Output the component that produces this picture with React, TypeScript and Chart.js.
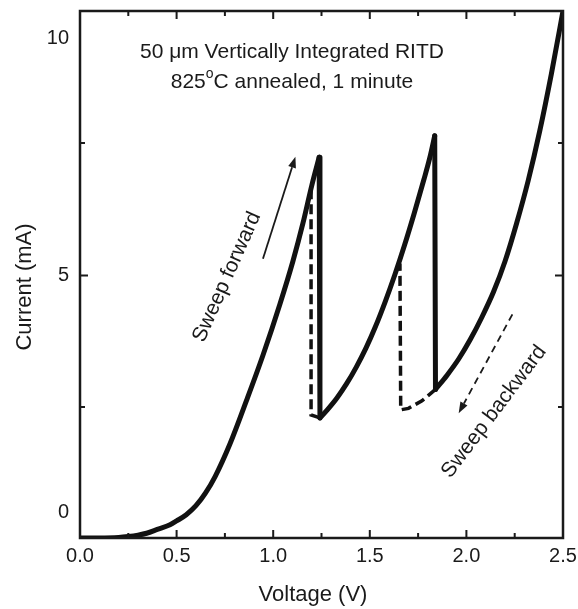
import React, { useEffect, useRef } from "react";
import { Chart, registerables } from "chart.js";

Chart.register(...registerables);

// ---- data (Voltage V, Current mA) ----
const branch1V = [0, 0.1, 0.2, 0.25, 0.3, 0.345, 0.4, 0.466, 0.5, 0.55, 0.6, 0.65, 0.7, 0.776, 0.863, 0.947, 1.035, 1.102, 1.154, 1.2, 1.238];
const branch1I = [-0.53, -0.53, -0.52, -0.5, -0.47, -0.43, -0.35, -0.25, -0.17, -0.04, 0.15, 0.42, 0.77, 1.45, 2.38, 3.32, 4.4, 5.3, 6.1, 6.9, 7.49];
const drop1V = [1.238, 1.242];
const drop1I = [7.49, 2.0];
const branch2V = [1.242, 1.28, 1.33, 1.38, 1.43, 1.48, 1.53, 1.58, 1.63, 1.68, 1.73, 1.78, 1.81, 1.836];
const branch2I = [2.0, 2.17, 2.42, 2.72, 3.07, 3.47, 3.93, 4.45, 5.02, 5.64, 6.31, 7.02, 7.47, 7.94];
const drop2V = [1.836, 1.84];
const drop2I = [7.94, 2.6];
const branch3V = [1.84, 1.9, 1.96, 2.02, 2.08, 2.14, 2.2, 2.26, 2.32, 2.38, 2.44, 2.5];
const branch3I = [2.6, 2.9, 3.24, 3.65, 4.12, 4.65, 5.3, 6.1, 7.0, 8.05, 9.25, 10.57];
const back1V = [1.242, 1.196, 1.196];
const back1I = [2.0, 2.06, 6.8];
const back2V = [1.84, 1.77, 1.7, 1.66, 1.656];
const back2I = [2.6, 2.36, 2.2, 2.17, 5.25];

// ---- axes ----
const xMin = 0;
const xMax = 2.5;
const yMin = -0.53;
const yMax = 10.57;
const xTickLabels = [0, 0.5, 1.0, 1.5, 2.0, 2.5];
const xTickMarks = [0.25, 0.5, 0.75, 1.0, 1.25, 1.5, 1.75, 2.0, 2.25];
const yTickLabels = [0, 5, 10];
const yTickMarks = [2.23, 5, 7.79];
const xTitle = "Voltage (V)";
const yTitle = "Current (mA)";

// ---- annotations ----
const noteLine1 = "50 \u03bcm Vertically Integrated RITD";
const noteLine2a = "825";
const noteLine2b = "o";
const noteLine2c = "C annealed, 1 minute";
const notePos = [1.097, 9.7, 9.07]; // x, y line1, y line2
const fwdText = "Sweep forward";
const fwdTextPos = [0.761, 4.97];
const bwdText = "Sweep backward";
const bwdTextPos = [2.143, 2.13];
const fwdArrowV = [0.947, 1.115];
const fwdArrowI = [5.35, 7.5];
const bwdArrowV = [2.238, 1.96];
const bwdArrowI = [4.18, 2.1];

const FONT = "'Liberation Sans', Arial, Helvetica, sans-serif";
const INK = "#1a1a1a";

const pts = (vs: number[], is: number[]) => vs.map((v, i) => ({ x: v, y: is[i] }));

const decorPlugin = {
  id: "decor",
  afterDraw(chart: any) {
    const { ctx, chartArea: a, scales } = chart;
    const xs = scales.x;
    const ys = scales.y;
    ctx.save();
    // frame
    ctx.strokeStyle = INK;
    ctx.lineWidth = 2.5;
    ctx.strokeRect(a.left, a.top, a.right - a.left, a.bottom - a.top);
    // x tick marks (inward, top and bottom)
    ctx.lineWidth = 2;
    xTickMarks.forEach((v) => {
      const px = xs.getPixelForValue(v);
      const major = Math.abs((v * 2) - Math.round(v * 2)) < 1e-6;
      const len = major ? 8 : 5;
      ctx.beginPath();
      ctx.moveTo(px, a.bottom);
      ctx.lineTo(px, a.bottom - len);
      ctx.moveTo(px, a.top);
      ctx.lineTo(px, a.top + len);
      ctx.stroke();
    });
    yTickMarks.forEach((v) => {
      const py = ys.getPixelForValue(v);
      const len = v === 5 ? 8 : 5;
      ctx.beginPath();
      ctx.moveTo(a.left, py);
      ctx.lineTo(a.left + len, py);
      ctx.moveTo(a.right, py);
      ctx.lineTo(a.right - len, py);
      ctx.stroke();
    });

    // axis titles
    ctx.fillStyle = INK;
    ctx.font = `22px ${FONT}`;
    ctx.textAlign = "center";
    ctx.textBaseline = "middle";
    ctx.fillText(xTitle, 313, 595);
    ctx.save();
    ctx.translate(25, 287);
    ctx.rotate(-Math.PI / 2);
    ctx.fillText(yTitle, 0, 0);
    ctx.restore();

    // note text
    ctx.font = `21px ${FONT}`;
    const nx = xs.getPixelForValue(notePos[0]);
    ctx.fillText(noteLine1, nx, ys.getPixelForValue(notePos[1]));
    const y2 = ys.getPixelForValue(notePos[2]);
    const wa = ctx.measureText(noteLine2a).width;
    const wc = ctx.measureText(noteLine2c).width;
    ctx.font = `14px ${FONT}`;
    const wb = ctx.measureText(noteLine2b).width;
    const total = wa + wb + wc;
    let cx = nx - total / 2;
    ctx.textAlign = "left";
    ctx.font = `21px ${FONT}`;
    ctx.fillText(noteLine2a, cx, y2);
    cx += wa;
    ctx.font = `14px ${FONT}`;
    ctx.fillText(noteLine2b, cx, y2 - 8);
    cx += wb;
    ctx.font = `21px ${FONT}`;
    ctx.fillText(noteLine2c, cx, y2);

    // rotated sweep labels
    ctx.textAlign = "center";
    const rot = (t: string, p: number[], deg: number) => {
      ctx.save();
      ctx.translate(xs.getPixelForValue(p[0]), ys.getPixelForValue(p[1]));
      ctx.rotate((deg * Math.PI) / 180);
      ctx.fillText(t, 0, 0);
      ctx.restore();
    };
    rot(fwdText, fwdTextPos, -66);
    rot(bwdText, bwdTextPos, -53);

    // arrows
    const arrow = (vs: number[], is: number[], dash: number[]) => {
      const x0 = xs.getPixelForValue(vs[0]);
      const y0 = ys.getPixelForValue(is[0]);
      const x1 = xs.getPixelForValue(vs[1]);
      const y1 = ys.getPixelForValue(is[1]);
      const ang = Math.atan2(y1 - y0, x1 - x0);
      const hl = 11;
      const hw = 4;
      const bx = x1 - hl * Math.cos(ang);
      const by = y1 - hl * Math.sin(ang);
      ctx.strokeStyle = INK;
      ctx.lineWidth = 1.8;
      ctx.setLineDash(dash);
      ctx.beginPath();
      ctx.moveTo(x0, y0);
      ctx.lineTo(bx, by);
      ctx.stroke();
      ctx.setLineDash([]);
      ctx.beginPath();
      ctx.moveTo(x1, y1);
      ctx.lineTo(bx + hw * Math.sin(ang), by - hw * Math.cos(ang));
      ctx.lineTo(bx - hw * Math.sin(ang), by + hw * Math.cos(ang));
      ctx.closePath();
      ctx.fill();
    };
    arrow(fwdArrowV, fwdArrowI, []);
    arrow(bwdArrowV, bwdArrowI, [7, 5]);
    ctx.restore();
  },
};

export default function App() {
  const ref = useRef<HTMLCanvasElement | null>(null);
  useEffect(() => {
    if (!ref.current) return;
    const solid = (data: any[], mono = true) => ({
      data,
      borderColor: "#111",
      borderWidth: 5,
      pointRadius: 0,
      fill: false,
      showLine: true,
      borderCapStyle: "round",
      borderJoinStyle: "round",
      cubicInterpolationMode: mono ? "monotone" : "default",
      tension: 0,
    });
    const dashed = (data: any[]) => ({
      data,
      borderColor: "#111",
      borderWidth: 3.5,
      borderDash: [10, 5],
      pointRadius: 0,
      fill: false,
      showLine: true,
      tension: 0,
    });
    const chart = new Chart(ref.current, {
      type: "line",
      data: {
        datasets: [
          solid(pts(branch1V, branch1I)),
          solid(pts(drop1V, drop1I), false),
          solid(pts(branch2V, branch2I)),
          solid(pts(drop2V, drop2I), false),
          solid(pts(branch3V, branch3I)),
          dashed(pts(back1V, back1I)),
          dashed(pts(back2V, back2I)),
        ] as any,
      },
      options: {
        animation: false,
        responsive: true,
        maintainAspectRatio: false,
        parsing: false as any,
        layout: { padding: { top: 11, right: 15, left: 0, bottom: 0 } },
        plugins: { legend: { display: false }, tooltip: { enabled: false } },
        scales: {
          x: {
            type: "linear",
            min: xMin,
            max: xMax,
            grid: { display: false, drawTicks: false },
            border: { display: false },
            afterBuildTicks: (s: any) => {
              s.ticks = xTickLabels.map((v) => ({ value: v }));
            },
            afterFit: (s: any) => {
              s.height = 71;
              s.paddingLeft = 0;
              s.paddingRight = 0;
            },
            ticks: {
              padding: 6,
              color: INK,
              font: { family: FONT, size: 20 },
              callback: (v: any) => Number(v).toFixed(1),
              maxRotation: 0,
            },
          },
          y: {
            type: "linear",
            min: yMin,
            max: yMax,
            grid: { display: false, drawTicks: false },
            border: { display: false },
            afterBuildTicks: (s: any) => {
              s.ticks = yTickLabels.map((v) => ({ value: v }));
            },
            afterFit: (s: any) => {
              s.width = 80;
              s.paddingTop = 0;
              s.paddingBottom = 0;
            },
            ticks: {
              padding: 11,
              color: INK,
              font: { family: FONT, size: 20 },
              callback: (v: any) => String(v),
            },
          },
        },
      },
      plugins: [decorPlugin],
    });
    return () => chart.destroy();
  }, []);
  return (
    <div style={{ position: "fixed", left: 0, top: 0, width: 578, height: 609, background: "#fff" }}>
      <canvas ref={ref} />
    </div>
  );
}
